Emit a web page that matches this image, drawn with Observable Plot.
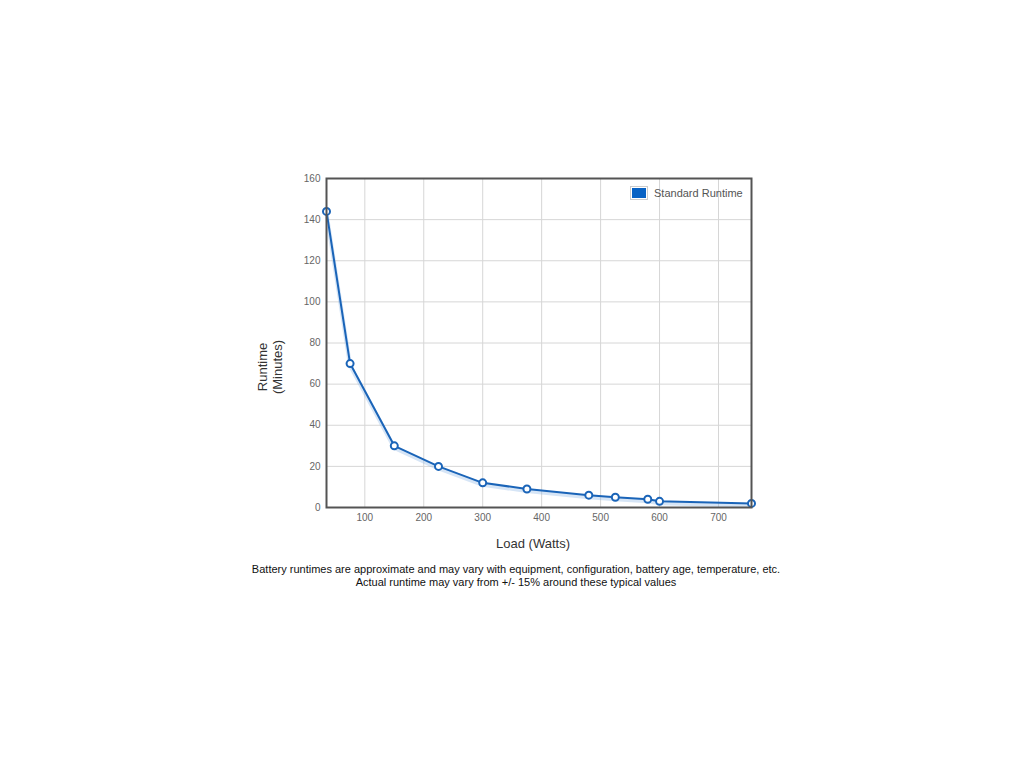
<!DOCTYPE html>
<html>
<head>
<meta charset="utf-8">
<script src="https://cdn.jsdelivr.net/npm/d3@7"></script>
<script src="https://cdn.jsdelivr.net/npm/@observablehq/plot@0.6"></script>
<style>
  html, body { margin: 0; padding: 0; background: #fff; }
  body { width: 1024px; height: 768px; position: relative; overflow: hidden; font-family: "Liberation Sans", Arial, sans-serif; }
  #chart { position: absolute; left: 240px; top: 160px; }
  .abs { position: absolute; white-space: nowrap; }
  #ylab { left: 270px; top: 367px; transform: translate(-50%, -50%) rotate(-90deg); text-align: center; font-size: 13px; line-height: 15px; color: #333; }
  #xlab { left: 533px; top: 543px; transform: translate(-50%, -50%); font-size: 13px; color: #333; }
  #caption { left: 516px; top: 563px; transform: translateX(-50%); text-align: center; font-size: 11px; line-height: 13px; color: #111; }
  #legend { left: 630px; top: 186px; display: flex; align-items: center; font-size: 11px; color: #545454; }
  #legend .sw { width: 14px; height: 10px; border: 1px solid #ccc; padding: 1px; margin-right: 6px; }
  #legend .sw div { width: 14px; height: 10px; }
</style>
</head>
<body>
<div id="chart"></div>
<div id="ylab" class="abs">Runtime<br>(Minutes)</div>
<div id="xlab" class="abs">Load (Watts)</div>
<div id="caption" class="abs">Battery runtimes are approximate and may vary with equipment, configuration, battery age, temperature, etc.<br>Actual runtime may vary from +/- 15% around these typical values</div>
<div id="legend" class="abs"><div class="sw"><div id="swfill"></div></div><span id="legtext"></span></div>
<script>
const seriesName = "Standard Runtime";
const loads = [35, 75, 150, 225, 300, 375, 480, 525, 580, 600, 756];
const runtimes = [144, 70, 30, 20, 12, 9, 6, 5, 4, 3, 2];
const xTicks = [100, 200, 300, 400, 500, 600, 700];
const yTicks = [0, 20, 40, 60, 80, 100, 120, 140, 160];
const lineColor = "#1a64b8";

const data = loads.map((x, i) => ({x, y: runtimes[i]}));

document.getElementById("swfill").style.background = "#0862c4";
document.getElementById("legtext").textContent = seriesName;

const chart = Plot.plot({
  width: 530,
  height: 380,
  marginLeft: 86,
  marginTop: 18,
  marginRight: 19,
  marginBottom: 33,
  style: {fontFamily: "'Liberation Sans', Arial, sans-serif", fontSize: "10px", color: "#545454", background: "transparent", overflow: "visible"},
  x: {domain: d3.extent(loads), label: null},
  y: {domain: [0, 160], label: null},
  marks: [
    Plot.gridX(xTicks, {stroke: "#d6d6d6", strokeOpacity: 1}),
    Plot.gridY(yTicks, {stroke: "#d6d6d6", strokeOpacity: 1}),
    Plot.axisX(xTicks, {tickSize: 0, tickPadding: 6, fill: "#666"}),
    Plot.axisY(yTicks, {tickSize: 0, tickPadding: 6, fill: "#666"}),
    Plot.line(data, {x: "x", y: "y", stroke: "#8ab4e4", strokeOpacity: 0.35, strokeWidth: 4, dy: 2}),
    Plot.line(data, {x: "x", y: "y", stroke: lineColor, strokeWidth: 2}),
    Plot.dot(data, {x: "x", y: "y", r: 3.5, fill: "white", stroke: lineColor, strokeWidth: 2}),
    Plot.frame({stroke: "#545454", strokeWidth: 2})
  ]
});
document.getElementById("chart").appendChild(chart);
</script>
</body>
</html>
